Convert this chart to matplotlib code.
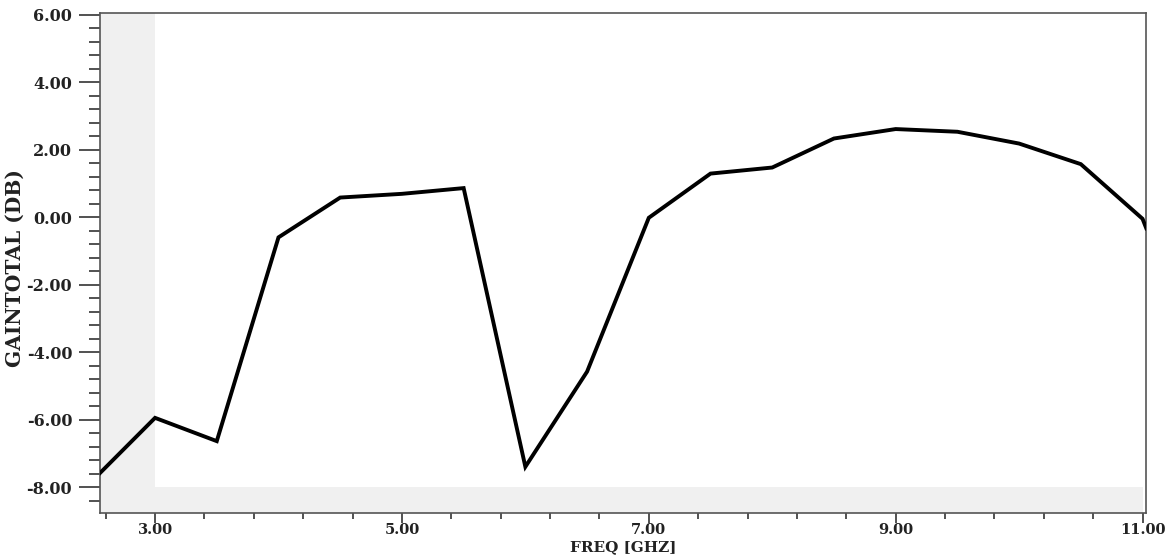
import numpy as np
from matplotlib import pyplot as plt
from matplotlib.ticker import MultipleLocator, FormatStrFormatter

# sweep
freq = [2.55, 3.0, 3.5, 4.0, 4.5, 5.0, 5.5, 6.0, 6.5, 7.0, 7.5,
        8.0, 8.5, 9.0, 9.5, 10.0, 10.5, 11.0, 11.03]
gain = [-7.6, -5.95, -6.64, -0.6, 0.58, 0.69, 0.86, -7.4, -4.58, -0.02, 1.29,
        1.47, 2.33, 2.61, 2.53, 2.18, 1.57, -0.05, -0.33]

x_lim = (2.554, 11.028)
y_lim = (-8.77, 6.05)

tickfont = {'family': 'DejaVu Serif', 'weight': 'bold', 'color': '#222222'}

fig = plt.figure(figsize=(11.7, 5.55), dpi=100)
ax = fig.add_axes([100 / 1170, 1 - 513 / 555, 1046 / 1170, 500 / 555])

# grey margins outside the 3..11 GHz / -8..6 dB window
ax.axvspan(x_lim[0], 3.0, color='#f0f0f0', lw=0, zorder=0)
ax.fill_between([3.0, 11.0], y_lim[0], -8.0, color='#f0f0f0', lw=0, zorder=0)

ax.plot(freq, gain, color='black', lw=2.8, solid_joinstyle='miter', zorder=3)

ax.set_xlim(*x_lim)
ax.set_ylim(*y_lim)

ax.xaxis.set_major_locator(MultipleLocator(2.0, offset=1.0))
ax.xaxis.set_minor_locator(MultipleLocator(0.4, offset=0.2))
ax.yaxis.set_major_locator(MultipleLocator(2.0))
ax.yaxis.set_minor_locator(MultipleLocator(0.4))
ax.xaxis.set_major_formatter(FormatStrFormatter('%.2f'))
ax.yaxis.set_major_formatter(FormatStrFormatter('%.2f'))

ax.tick_params(axis='y', which='major', length=15, width=1.2, color='#333333', pad=5)
ax.tick_params(axis='y', which='minor', length=8, width=1.2, color='#333333')
ax.tick_params(axis='x', which='major', length=7, width=1.2, color='#333333', pad=0)
ax.tick_params(axis='x', which='minor', length=4, width=1.2, color='#333333')

for lab in ax.get_xticklabels() + ax.get_yticklabels():
    lab.set_fontfamily(tickfont['family'])
    lab.set_fontweight(tickfont['weight'])
    lab.set_color(tickfont['color'])
for lab in ax.get_yticklabels():
    lab.set_fontsize(11.5)
for lab in ax.get_xticklabels():
    lab.set_fontsize(10.5)

for sp in ax.spines.values():
    sp.set_color('#555555')
    sp.set_linewidth(1.2)

ax.set_xlabel('FREQ [GHZ]', family='DejaVu Serif', weight='bold', size=11,
              color='#222222', va='bottom')
ax.xaxis.set_label_coords(0.5, -0.082)
ax.set_ylabel('GAINTOTAL (DB)', family='DejaVu Serif', weight='bold', size=14.5,
              color='#222222', va='center')
ax.yaxis.set_label_coords(-0.0813, 0.49)

fig.savefig('out.png', dpi=100)
